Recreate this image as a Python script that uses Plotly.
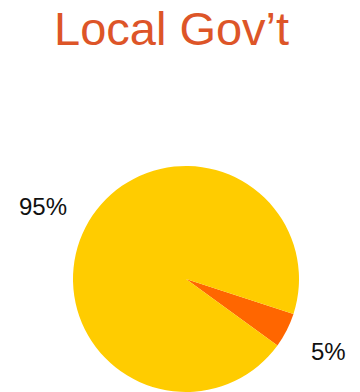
import math
import plotly.graph_objects as go

# Share of funding by source
labels = ["Other", "Local"]
values = [5, 95]
colors = ["#FF6600", "#FFCC00"]

title_text = "Local Gov’t"

W, H = 360, 392
CX, CY, R = 186, 279, 113      # pie centre and radius in pixels
ROTATION = 108                 # start angle of first slice, clockwise from 12 o'clock
LABEL_DIST = 160               # distance of percentage labels from the centre

fig = go.Figure(
    go.Pie(
        labels=labels,
        values=values,
        sort=False,
        direction="clockwise",
        rotation=ROTATION,
        marker=dict(colors=colors, line=dict(width=0)),
        textinfo="none",
        showlegend=False,
        hoverinfo="label+percent",
        domain=dict(x=[(CX - R) / W, (CX + R) / W], y=[(H - CY - R) / H, (H - CY + R) / H]),
    )
)

# Percentage labels placed outside each slice along its mid-angle
total = sum(values)
start = ROTATION
for v in values:
    span = 360 * v / total
    mid = start + span / 2                     # clockwise from 12 o'clock
    theta = math.radians(mid - 90)              # clockwise from 3 o'clock, screen y down
    px = CX + LABEL_DIST * math.cos(theta)
    py = CY + LABEL_DIST * math.sin(theta)
    fig.add_annotation(
        text=f"{round(100 * v / total)}%",
        xref="paper", yref="paper",
        x=px / W, y=1 - py / H,
        xanchor="center", yanchor="middle",
        showarrow=False,
        font=dict(family="Liberation Sans, Arial, sans-serif", size=24, color="#111111"),
    )
    start += span

fig.add_annotation(
    text=title_text,
    xref="paper", yref="paper",
    x=171 / W, y=1.0,
    xanchor="center", yanchor="top",
    showarrow=False,
    font=dict(family="Liberation Sans, Arial, sans-serif", size=47, color="#DD5528"),
)

fig.update_layout(
    width=W,
    height=H,
    margin=dict(l=0, r=0, t=0, b=0),
    paper_bgcolor="white",
    plot_bgcolor="white",
)

fig.write_html("out.html")
